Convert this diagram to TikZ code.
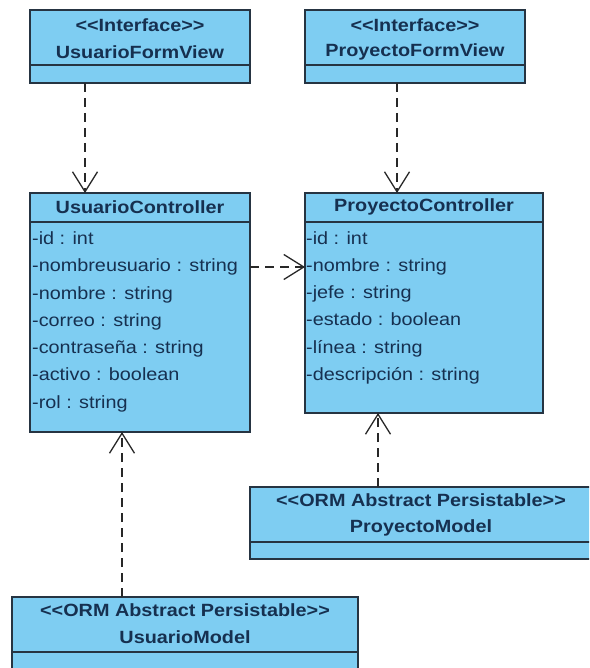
\documentclass[tikz,border=0pt]{standalone}
\usepackage{fontspec}
\setmainfont{Liberation Sans}[Ligatures=TeXOff, FakeStretch=1.12]
\usetikzlibrary{arrows.meta}
\definecolor{classfill}{RGB}{126,205,242}
\definecolor{classline}{RGB}{38,52,66}
\definecolor{classtext}{RGB}{22,48,80}
\definecolor{depline}{RGB}{40,40,40}
\tikzset{
  classbox/.style={draw=classline, fill=classfill, line width=1.3pt,
    rectangle, anchor=north west, inner sep=0pt, outer sep=0pt},
  sepline/.style={draw=classline, line width=1.2pt},
  headtext/.style={text=classtext, inner sep=0pt,
    font=\fontsize{17.7}{20}\selectfont\bfseries},
  attrtext/.style={text=classtext, inner sep=0pt, anchor=west,
    text height=13pt, text depth=4pt,
    font=\fontsize{17.7}{20}\selectfont},
  depend/.style={draw=depline, line width=1.3pt, dash pattern=on 9pt off 6pt,
    -{Straight Barb[length=20pt,width=25pt,line width=1.3pt]}}
}
\begin{document}
\begin{tikzpicture}[x=1pt,y=-1pt]
\clip (0,0) rectangle (589,668);

% UsuarioFormView
\node[classbox, minimum width=220pt, minimum height=73pt] (ufv) at (30,10) {};
\draw[sepline] (30,65) -- (250,65);
\node[headtext] (ufvst) at (140,25) {<<Interface>>};
\node[headtext] (ufvname) at (140,52) {UsuarioFormView};

% ProyectoFormView
\node[classbox, minimum width=220pt, minimum height=73pt] (pfv) at (305,10) {};
\draw[sepline] (305,65) -- (525,65);
\node[headtext] (pfvst) at (415,25) {<<Interface>>};
\node[headtext] (pfvname) at (415,52) {ProyectoFormView};

% UsuarioController
\node[classbox, minimum width=220pt, minimum height=239pt] (uc) at (30,193) {};
\draw[sepline] (30,222) -- (250,222);
\node[headtext] (ucname) at (140,207) {UsuarioController};
\node[attrtext] (uc1) at (32,240) {-id : int};
\node[attrtext] (uc2) at (32,267) {-nombreusuario : string};
\node[attrtext] (uc3) at (32,295) {-nombre : string};
\node[attrtext] (uc4) at (32,322) {-correo : string};
\node[attrtext] (uc5) at (32,349) {-contraseña : string};
\node[attrtext] (uc6) at (32,376) {-activo : boolean};
\node[attrtext] (uc7) at (32,404) {-rol : string};

% ProyectoController
\node[classbox, minimum width=238pt, minimum height=220pt] (pc) at (305,193) {};
\draw[sepline] (305,222) -- (543,222);
\node[headtext] (pcname) at (424,207) {ProyectoController};
\node[attrtext] (pc1) at (306,240) {-id : int};
\node[attrtext] (pc2) at (306,267) {-nombre : string};
\node[attrtext] (pc3) at (306,294) {-jefe : string};
\node[attrtext] (pc4) at (306,321) {-estado : boolean};
\node[attrtext] (pc5) at (306,349) {-línea : string};
\node[attrtext] (pc6) at (306,376) {-descripción : string};

% ProyectoModel
\node[classbox, minimum width=343pt, minimum height=72pt] (pm) at (250,487) {};
\draw[sepline] (250,542) -- (593,542);
\node[headtext] (pmst) at (421,500) {<<ORM Abstract Persistable>>};
\node[headtext] (pmname) at (421,528) {ProyectoModel};

% UsuarioModel
\node[classbox, minimum width=346pt, minimum height=80pt] (um) at (12,597) {};
\draw[sepline] (12,652) -- (358,652);
\node[headtext] (umst) at (185,610) {<<ORM Abstract Persistable>>};
\node[headtext] (umname) at (185,637) {UsuarioModel};

% dependencies
\draw[depend] ([xshift=55pt]ufv.south west) -- ([xshift=55pt]uc.north west);
\draw[depend] ([xshift=92pt]pfv.south west) -- ([xshift=92pt]pc.north west);
\draw[depend] ([yshift=-74pt]uc.north east) -- ([yshift=-74pt]pc.north west);
\draw[depend] ([xshift=128pt]pm.north west) -- ([xshift=73pt]pc.south west);
\draw[depend] ([xshift=110pt]um.north west) -- ([xshift=92pt]uc.south west);
\end{tikzpicture}
\end{document}
